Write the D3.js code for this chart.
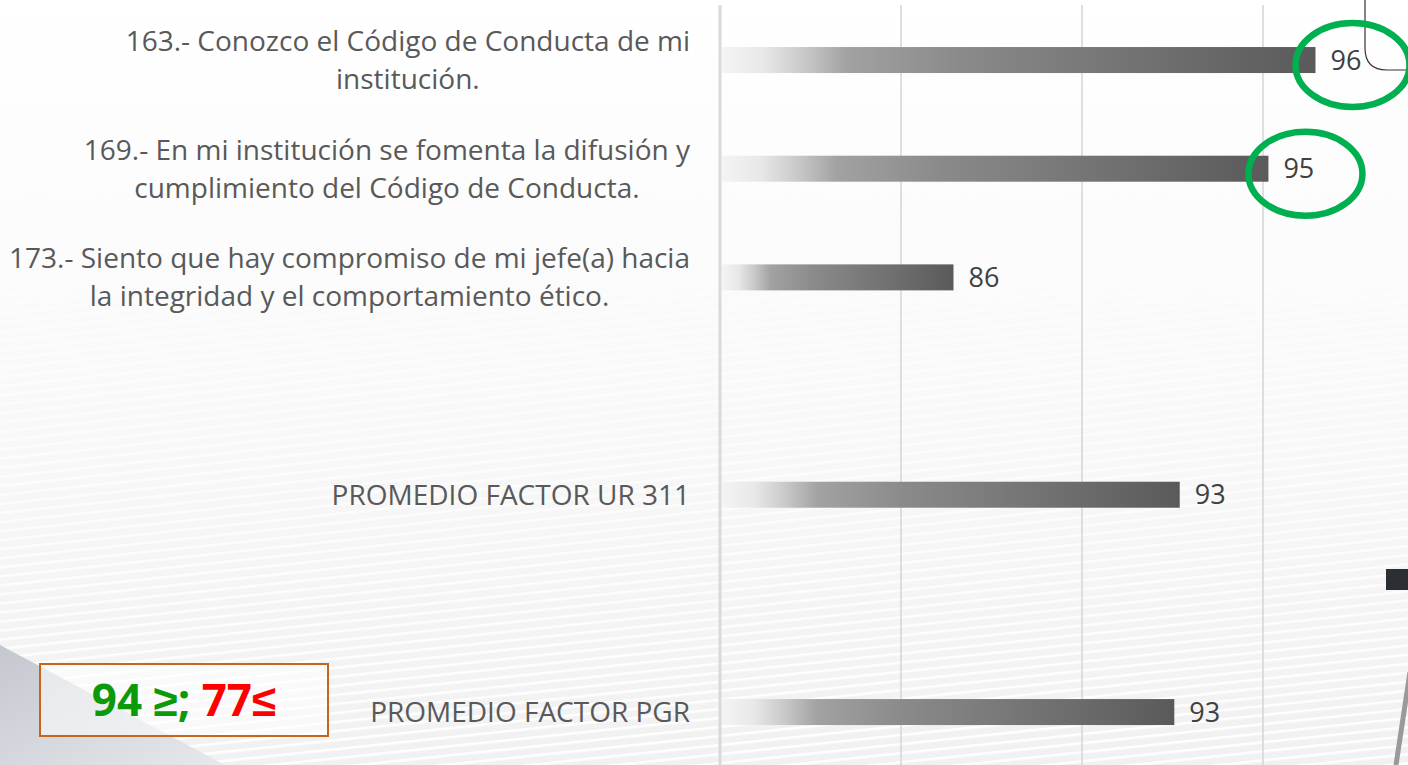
<!DOCTYPE html>
<html lang="es">
<head>
  <meta charset="UTF-8" />
  <title>Código de Conducta</title>
  <script src="https://d3js.org/d3.v7.min.js"></script>
  <style>
    html, body { margin: 0; padding: 0; background: #fff; }
    svg { display: block; }
    .cat { font-family: "Open Sans", sans-serif; font-size: 28px; fill: #595959; }
    .val { font-family: "Open Sans", sans-serif; font-size: 27px; fill: #404040; }
    .rango { font-family: "Noto Sans", sans-serif; font-weight: bold; font-size: 44px; }
  </style>
</head>
<body>
  <svg id="chart" width="1408" height="765"></svg>
  <script>
    // slots in the chart, two of them left empty
    const slots = ["p163", "p169", "p173", "blank1", "ur", "blank2", "pgr"];
    const barKeys = ["p163", "p169", "p173", "ur", "pgr"];
    const labelLines = [
      ["163.- Conozco el Código de Conducta de mi", "institución."],
      ["169.- En mi institución se fomenta la difusión y", "cumplimiento del Código de Conducta."],
      ["173.- Siento que hay compromiso de mi jefe(a) hacia", "la integridad y el comportamiento ético."],
      ["PROMEDIO FACTOR UR 311"],
      ["PROMEDIO FACTOR PGR"]
    ];
    const values = [96.45, 95.15, 86.45, 92.7, 92.55];
    const circled = ["p163", "p169"];
    const gridTicks = [80, 85, 90, 95, 100];

    const W = 1408, H = 765;
    const svg = d3.select("#chart");
    const defs = svg.append("defs");

    const x = d3.scaleLinear().domain([80, 100]).range([720, 1444]);
    const y = d3.scaleBand().domain(slots).range([5.7, 766.4]).padding(0);
    const barH = 26;
    const mid = k => y(k) + y.bandwidth() / 2;

    // ---- background
    const bgGrad = defs.append("linearGradient").attr("id", "bgGrad")
      .attr("x1", 0).attr("y1", 0).attr("x2", 0).attr("y2", 1);
    bgGrad.append("stop").attr("offset", "0%").attr("stop-color", "#ffffff");
    bgGrad.append("stop").attr("offset", "45%").attr("stop-color", "#fafafa");
    bgGrad.append("stop").attr("offset", "100%").attr("stop-color", "#f1f1f1");
    svg.append("rect").attr("width", W).attr("height", H).attr("fill", "url(#bgGrad)");

    const stripes = defs.append("pattern").attr("id", "stripes")
      .attr("patternUnits", "userSpaceOnUse").attr("width", 40).attr("height", 9)
      .attr("patternTransform", "rotate(-6)");
    stripes.append("rect").attr("y", 5).attr("width", 40).attr("height", 2.5).attr("fill", "#ffffff");
    const fade = defs.append("linearGradient").attr("id", "fade")
      .attr("x1", 0).attr("y1", 0).attr("x2", 0).attr("y2", 1);
    fade.append("stop").attr("offset", "0%").attr("stop-color", "#fff").attr("stop-opacity", 0);
    fade.append("stop").attr("offset", "100%").attr("stop-color", "#fff").attr("stop-opacity", 1);
    defs.append("mask").attr("id", "fadeMask")
      .append("rect").attr("width", W).attr("height", H).attr("fill", "url(#fade)");
    svg.append("rect").attr("width", W).attr("height", H)
      .attr("fill", "url(#stripes)").attr("mask", "url(#fadeMask)");

    // grey sheet at the bottom left
    const sheet = defs.append("linearGradient").attr("id", "sheet")
      .attr("x1", 0).attr("y1", 0).attr("x2", 1).attr("y2", 1);
    sheet.append("stop").attr("offset", "0%").attr("stop-color", "#c4c7cf");
    sheet.append("stop").attr("offset", "100%").attr("stop-color", "#e6e8ec");
    svg.append("path").attr("d", "M0,645 L225,765 L0,765 Z").attr("fill", "url(#sheet)");

    // decorations on the right edge
    svg.append("rect").attr("x", 1386).attr("y", 569).attr("width", 24).attr("height", 21).attr("fill", "#2b2f34");
    svg.append("line").attr("x1", 1396).attr("y1", 765).attr("x2", 1410).attr("y2", 672)
      .attr("stroke", "#9a9a9a").attr("stroke-width", 5);
    svg.append("path").attr("d", "M1365,0 L1365,48 Q1365,70 1387,70 L1410,70")
      .attr("fill", "none").attr("stroke", "#333").attr("stroke-width", 1.2);

    // ---- grid
    svg.append("g").selectAll("line").data(gridTicks.slice(1)).join("line")
      .attr("x1", d => x(d)).attr("x2", d => x(d))
      .attr("y1", 5).attr("y2", H)
      .attr("stroke", "#d4d4d4").attr("stroke-width", 1.5);
    svg.append("line").attr("x1", x(80)).attr("x2", x(80)).attr("y1", 5).attr("y2", H)
      .attr("stroke", "#d9d9d9").attr("stroke-width", 3);

    // ---- bars
    const barGrad = defs.append("linearGradient").attr("id", "barGrad")
      .attr("x1", 0).attr("y1", 0).attr("x2", 1).attr("y2", 0);
    [["0%", "#f4f4f4"], ["7%", "#e8e8e8"], ["14%", "#c8c8c8"], ["21%", "#a2a2a2"],
     ["40%", "#8a8a8a"], ["100%", "#5a5a5a"]].forEach(([o, c]) =>
      barGrad.append("stop").attr("offset", o).attr("stop-color", c));

    const rows = barKeys.map((k, i) => ({ key: k, value: values[i], lines: labelLines[i] }));

    svg.append("g").selectAll("rect").data(rows).join("rect")
      .attr("x", x(80) + 2)
      .attr("y", d => mid(d.key) - barH / 2)
      .attr("width", d => x(d.value) - x(80) - 2)
      .attr("height", barH)
      .attr("fill", "url(#barGrad)");

    svg.append("g").selectAll("text").data(rows).join("text")
      .attr("class", "val")
      .attr("x", d => x(d.value) + 15)
      .attr("y", d => mid(d.key))
      .attr("dy", "0.36em")
      .text(d => Math.round(d.value));

    // ---- category labels (centred block, right edge at 690)
    const labelRight = 690, lineGap = 38;
    rows.forEach(d => {
      const g = svg.append("g");
      const texts = g.selectAll("text").data(d.lines).join("text")
        .attr("class", "cat")
        .attr("y", (t, j) => mid(d.key) + (j - (d.lines.length - 1) / 2) * lineGap)
        .attr("dy", "0.36em")
        .attr("text-anchor", "middle")
        .text(t => t);
      const maxW = d3.max(texts.nodes(), n => n.getComputedTextLength());
      texts.attr("x", labelRight - maxW / 2);
    });

    // ---- green circles
    svg.append("g").selectAll("ellipse").data(rows.filter(d => circled.includes(d.key))).join("ellipse")
      .attr("cx", d => x(d.value) + 37)
      .attr("cy", d => mid(d.key) + 5)
      .attr("rx", 57).attr("ry", 42)
      .attr("fill", "none").attr("stroke", "#00b050").attr("stroke-width", 6.5);

    // ---- range box
    svg.append("rect").attr("x", 40).attr("y", 664).attr("width", 288).attr("height", 72)
      .attr("fill", "rgba(255,255,255,0.55)").attr("stroke", "#c8651b").attr("stroke-width", 2);
    const rt = svg.append("text").attr("class", "rango")
      .attr("x", 184).attr("y", 700).attr("dy", "0.36em").attr("text-anchor", "middle");
    rt.append("tspan").attr("fill", "#0a9a0a").text("94 ≥; ");
    rt.append("tspan").attr("fill", "#ff0000").text("77≤");
  </script>
</body>
</html>
